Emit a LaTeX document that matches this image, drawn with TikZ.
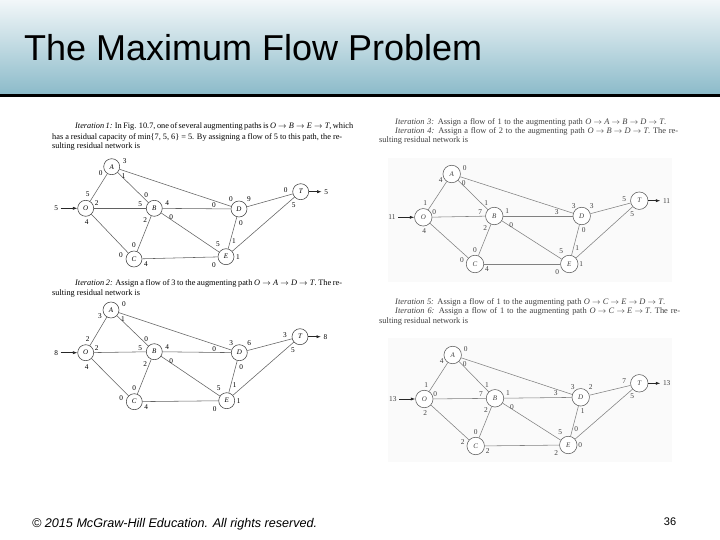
\documentclass[tikz,border=0pt]{standalone}
\usepackage{fontspec}
\setmainfont{Liberation Serif}
\newfontfamily\arialfont{Liberation Sans}
\usetikzlibrary{calc,arrows.meta}

\tikzset{
  vtx/.style={circle, draw=black!75, fill=white, line width=0.55pt, minimum size=16pt,
    inner sep=0pt, font=\fontsize{7}{7}\selectfont\itshape},
  vtxb/.style={vtx, draw=black!65, minimum size=17.5pt, text=black!75},
  edge/.style={draw=black!62, line width=0.55pt},
  lab/.style={inner sep=0pt, font=\fontsize{7.3}{7.3}\selectfont},
  flowarr/.style={-{Latex[length=4.5pt,width=3.2pt]}, line width=0.7pt, draw=black!85},
  txt/.style={anchor=base west, inner sep=0pt, font=\fontsize{8.3}{10}\selectfont},
  txtb/.style={txt, font=\fontsize{8.4}{9}\selectfont, text=black!75},
}

\newcommand\net[9]{%
  \node[#9] (#1O) at #2 {O};
  \node[#9] (#1A) at #3 {A};
  \node[#9] (#1B) at #4 {B};
  \node[#9] (#1C) at #5 {C};
  \node[#9] (#1D) at #6 {D};
  \node[#9] (#1E) at #7 {E};
  \node[#9] (#1T) at #8 {T};
  \foreach \u/\v in {O/A,O/B,O/C,A/B,A/D,B/D,B/C,B/E,C/E,D/E,D/T,E/T}
    \draw[edge] (#1\u) -- (#1\v);
}
\newcommand\Olab[5]{%
  \coordinate (#1in) at ($(#1O)+(-25,0)$);
  \draw[flowarr] (#1in) -- (#1O);
  \node[lab, anchor=east] (#1inl) at ($(#1in)+(-2.5,0)$) {#2};
  \node[lab] (#1o1) at ($(#1O)+(2,-14)$) {#3};
  \node[lab] (#1o2) at ($(#1O)+(11,-5)$) {#4};
  \node[lab] (#1o3) at ($(#1O)+(1,14)$) {#5};
}
\newcommand\Alab[4]{%
  \node[lab] (#1a1) at ($(#1A)+(-11,6)$) {#2};
  \node[lab] (#1a2) at ($(#1A)+(13,-6)$) {#3};
  \node[lab] (#1a3) at ($(#1A)+(12,9)$) {#4};
}
\newcommand\Blab[6]{%
  \node[lab] (#1b1) at ($(#1B)+(-8,-13)$) {#2};
  \node[lab] (#1b2) at ($(#1B)+(-14,-4)$) {#3};
  \node[lab] (#1b3) at ($(#1B)+(13,-5)$) {#4};
  \node[lab] (#1b4) at ($(#1B)+(-9,12)$) {#5};
  \node[lab] (#1b5) at ($(#1B)+(17,9)$) {#6};
}
\newcommand\Clab[4]{%
  \node[lab] (#1c1) at ($(#1C)+(0,-14)$) {#2};
  \node[lab] (#1c2) at ($(#1C)+(-13,-4)$) {#3};
  \node[lab] (#1c3) at ($(#1C)+(12,5)$) {#4};
}
\newcommand\Dlab[5]{%
  \node[lab] (#1d1) at ($(#1D)+(-25,-4)$) {#2};
  \node[lab] (#1d2) at ($(#1D)+(-8,-10)$) {#3};
  \node[lab] (#1d3) at ($(#1D)+(10,-10)$) {#4};
  \node[lab] (#1d4) at ($(#1D)+(2,14)$) {#5};
}
\newcommand\Elab[5]{%
  \node[lab] (#1e1) at ($(#1E)+(-8,-13)$) {#2};
  \node[lab] (#1e2) at ($(#1E)+(8,-16)$) {#3};
  \node[lab] (#1e3) at ($(#1E)+(12,0)$) {#4};
  \node[lab] (#1e4) at ($(#1E)+(-12,8)$) {#5};
}
\newcommand\Tlab[4]{%
  \node[lab] (#1t1) at ($(#1T)+(-15,-2)$) {#2};
  \node[lab] (#1t2) at ($(#1T)+(-7,13)$) {#3};
  \coordinate (#1out) at ($(#1T)+(21,0)$);
  \draw[flowarr] (#1T) -- (#1out);
  \node[lab, anchor=west] (#1outl) at ($(#1out)+(2.5,0)$) {#4};
}
\newcommand\ra{\kern2.2pt$\rightarrow$\kern2.2pt}
\newcommand\vO{\textit{O}}
\newcommand\vA{\textit{A}}
\newcommand\vB{\textit{B}}
\newcommand\vC{\textit{C}}
\newcommand\vD{\textit{D}}
\newcommand\vE{\textit{E}}
\newcommand\vT{\textit{T}}

\begin{document}
\begin{tikzpicture}[x=1pt,y=-1pt]
  \fill[white] (0,0) rectangle (720,540);
  \useasboundingbox (0,0) rectangle (720,540);
  % header
  \shade[top color={rgb,255:red,242;green,247;blue,249}, bottom color={rgb,255:red,140;green,187;blue,202}]
    (0,0) rectangle (720,94);
  \fill[black] (0,94) rectangle (720,97.5);
  \node[anchor=base west, inner sep=0pt, font=\arialfont\fontsize{36}{36}\selectfont] (title) at (24,61)
    {The Maximum Flow Problem};

  % faint backgrounds of the right-hand scans
  \fill[black!2] (388,158) rectangle (672,282);
  \fill[black!2] (388,338) rectangle (672,462);

  % ---------- text blocks ----------
  \node[txt] (t1a) at (75,129) {\makebox[267pt][s]{\textit{Iteration 1:} In Fig. 10.7, one of several augmenting paths is \vO\ra\vB\ra\vE\ra\vT, which}};
  \node[txt] (t1b) at (52,139.3) {\makebox[290pt][s]{has a residual capacity of min\{7, 5, 6\} = 5. By assigning a flow of 5 to this path, the re-}};
  \node[txt] (t1c) at (52,148.5) {sulting residual network is};

  \node[txt] (t2a) at (75,285.5) {\makebox[267pt][s]{\textit{Iteration 2:} Assign a flow of 3 to the augmenting path \vO\ra\vA\ra\vD\ra\vT. The re-}};
  \node[txt] (t2b) at (52,295.5) {sulting residual network is};

  \node[txtb] (t3a) at (395,125) {\makebox[271pt][s]{\textit{Iteration 3:} Assign a flow of 1 to the augmenting path \vO\ra\vA\ra\vB\ra\vD\ra\vT.}};
  \node[txtb] (t3b) at (395,134) {\makebox[283pt][s]{\textit{Iteration 4:} Assign a flow of 2 to the augmenting path \vO\ra\vB\ra\vD\ra\vT. The re-}};
  \node[txtb] (t3c) at (379,142.7) {sulting residual network is};

  \node[txtb] (t4a) at (395,304.5) {\makebox[270pt][s]{\textit{Iteration 5:} Assign a flow of 1 to the augmenting path \vO\ra\vC\ra\vE\ra\vD\ra\vT.}};
  \node[txtb] (t4b) at (395,313.5) {\makebox[285pt][s]{\textit{Iteration 6:} Assign a flow of 1 to the augmenting path \vO\ra\vC\ra\vE\ra\vT. The re-}};
  \node[txtb] (t4c) at (379,323) {sulting residual network is};

  % ---------- network 1 ----------
  \net{g1}{(85.7,208.3)}{(111.7,166.7)}{(154.3,208.3)}{(134,259)}{(239,209)}{(226,256.7)}{(300.7,191.7)}{vtx}
  \Olab{g1}{5}{5}{2}{4}
  \Alab{g1}{0}{3}{1}
  \Blab{g1}{0}{5}{4}{2}{0}
  \Clab{g1}{0}{0}{4}
  \Dlab{g1}{0}{0}{9}{0}
  \Elab{g1}{5}{1}{1}{0}
  \Tlab{g1}{0}{5}{5}

  % ---------- network 2 ----------
  \net{g2}{(85.7,352.7)}{(111,310)}{(154.3,351.7)}{(134.3,401.7)}{(239.3,352.7)}{(226.7,400.7)}{(300,336.7)}{vtx}
  \Olab{g2}{8}{2}{2}{4}
  \Alab{g2}{3}{0}{1}
  \Blab{g2}{0}{5}{4}{2}{0}
  \Clab{g2}{0}{0}{4}
  \Dlab{g2}{0}{3}{6}{0}
  \Elab{g2}{5}{1}{1}{0}
  \Tlab{g2}{3}{5}{8}

  \begin{scope}[lab/.append style={font=\fontsize{7.4}{7.4}\selectfont, text=black!75},
                edge/.append style={draw=black!50}]
  % ---------- network 3 ----------
  \net{g3}{(423.3,217.3)}{(451.7,174)}{(494.3,216)}{(475,264)}{(581.7,216)}{(569.3,264)}{(639.3,200.7)}{vtxb}
  \Olab{g3}{11}{1}{0}{4}
  \Alab{g3}{4}{0}{0}
  \Blab{g3}{1}{7}{1}{2}{0}
  \Clab{g3}{0}{0}{4}
  \Dlab{g3}{3}{3}{3}{0}
  \Elab{g3}{5}{1}{1}{0}
  \Tlab{g3}{5}{5}{11}

  % ---------- network 4 ----------
  \net{g4}{(424.3,399)}{(452.7,355)}{(495,398.3)}{(475.7,446)}{(580.7,397.3)}{(568.3,445)}{(639.3,383.3)}{vtxb}
  \Olab{g4}{13}{1}{0}{2}
  \Alab{g4}{4}{0}{0}
  \Blab{g4}{1}{7}{1}{2}{0}
  \Clab{g4}{0}{2}{2}
  \Dlab{g4}{3}{3}{2}{1}
  \Elab{g4}{5}{0}{0}{2}
  \Tlab{g4}{7}{5}{13}
  \end{scope}

  % ---------- footer ----------
  \node[anchor=base west, inner sep=0pt, font=\arialfont\itshape\fontsize{12.6}{12.6}\selectfont] (foot) at (32,527)
    {© 2015 McGraw-Hill Education. All rights reserved.};
  \node[anchor=base, inner sep=0pt, font=\arialfont\fontsize{11}{11}\selectfont] (page) at (670,525) {36};
\end{tikzpicture}
\end{document}
